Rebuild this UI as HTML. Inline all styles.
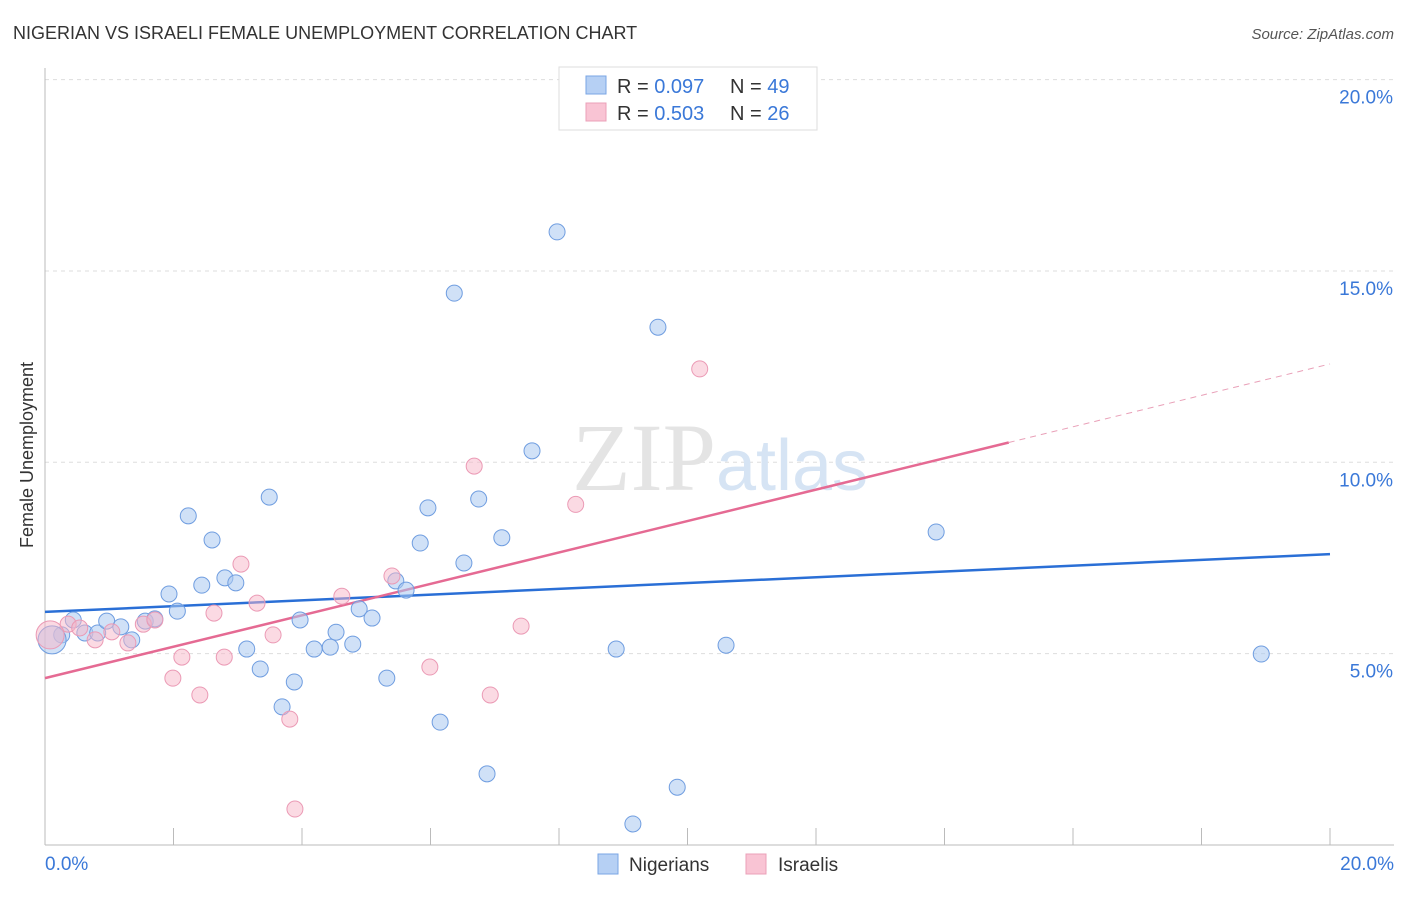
<!DOCTYPE html>
<html><head><meta charset="utf-8"><style>
body{margin:0;background:#fff;font-family:"Liberation Sans",sans-serif;}
svg text{font-family:"Liberation Sans",sans-serif;}
</style></head><body>
<svg id="chart" width="1406" height="892" xmlns="http://www.w3.org/2000/svg">
<text x="13" y="39" font-size="18" fill="#333">NIGERIAN VS ISRAELI FEMALE UNEMPLOYMENT CORRELATION CHART</text>
<text x="1394" y="39" font-size="15" fill="#555" text-anchor="end" font-style="italic">Source: ZipAtlas.com</text>
<g id="grid"></g>
<text x="720" y="490" font-size="96" text-anchor="middle" fill="#e4e4e4"><tspan font-family="Liberation Serif">ZIP</tspan><tspan fill="#d6e4f4" font-size="72">atlas</tspan></text>
<text transform="translate(33,455) rotate(-90)" font-size="18" fill="#333" text-anchor="middle">Female Unemployment</text>
<g id="trends"></g>
<g id="points"></g>
<g>
<rect x="559" y="67" width="258" height="63" fill="#fff" stroke="#ddd"/>
<rect x="586" y="76" width="20" height="18" fill="#b6d0f4" stroke="#7aa6e4"/>
<text x="617" y="93" font-size="20" fill="#333">R = <tspan fill="#3a78d8">0.097</tspan></text>
<text x="730" y="93" font-size="20" fill="#333">N = <tspan fill="#3a78d8">49</tspan></text>
<rect x="586" y="103" width="20" height="18" fill="#f9c4d4" stroke="#eba0b8"/>
<text x="617" y="120" font-size="20" fill="#333">R = <tspan fill="#3a78d8">0.503</tspan></text>
<text x="730" y="120" font-size="20" fill="#333">N = <tspan fill="#3a78d8">26</tspan></text>
</g>
<g>
<rect x="598" y="854" width="20" height="20" fill="#b6d0f4" stroke="#7aa6e4"/>
<text x="629" y="871" font-size="19" fill="#333">Nigerians</text>
<rect x="746" y="854" width="20" height="20" fill="#f9c4d4" stroke="#eba0b8"/>
<text x="778" y="871" font-size="19" fill="#333">Israelis</text>
</g>
</svg>
<script>
const yTicks=[5,10,15,20];
const yTickLabels=["5.0%","10.0%","15.0%","20.0%"];
const xTickCount=10;
const nigX=[0.26,0.44,0.62,0.82,0.96,1.18,1.35,1.56,1.71,1.93,2.06,2.23,2.44,2.60,2.80,2.97,3.14,3.35,3.49,3.69,3.88,3.97,4.19,4.44,4.53,4.79,4.89,5.09,5.32,5.46,5.62,5.84,5.96,6.15,6.37,6.52,6.75,6.88,7.11,7.58,7.97,8.89,9.15,9.54,9.84,10.60,13.87,18.93,0.11];
const nigY=[5.49,5.88,5.54,5.54,5.85,5.70,5.36,5.85,5.91,6.56,6.11,8.60,6.79,7.97,6.98,6.85,5.12,4.60,9.09,3.61,4.26,5.88,5.12,5.17,5.56,5.25,6.17,5.93,4.36,6.90,6.66,7.89,8.81,3.21,14.42,7.37,9.04,1.86,8.03,10.30,16.02,5.12,0.55,13.53,1.51,5.22,8.18,4.99,5.36];
const isrX=[0.36,0.54,0.78,1.04,1.29,1.53,1.71,1.99,2.13,2.41,2.63,2.79,3.05,3.30,3.55,3.81,3.89,4.62,5.40,5.99,6.68,6.93,7.41,8.26,10.19,0.08];
const isrY=[5.77,5.67,5.36,5.57,5.28,5.77,5.88,4.36,4.91,3.92,6.06,4.91,7.34,6.32,5.49,3.29,0.94,6.50,7.03,4.65,9.90,3.92,5.72,8.90,12.44,5.49];
const nigTrend=[6.09,7.60];
const isrTrend=[4.36,12.57];
const isrSolidEnd=15.0;
const X=v=>45+v*64.25, Y=v=>845-v*38.27;
const NS="http://www.w3.org/2000/svg";
function mk(t,a,p){const e=document.createElementNS(NS,t);for(const k in a)e.setAttribute(k,a[k]);p.appendChild(e);return e;}
const g=document.getElementById('grid');
yTicks.forEach((t,i)=>{
 const l=mk('line',{x1:45,x2:1394,y1:Y(t),y2:Y(t),stroke:'#ddd','stroke-dasharray':'4,4'},g);
 
 
 const tx=mk('text',{x:1393,y:Y(t)+24,'font-size':19,fill:'#3a78d8','text-anchor':'end'},g);
 tx.textContent=yTickLabels[i];
 
 
});
const ax=mk('line',{x1:45,x2:1394,y1:845,y2:845,stroke:'#bbb'},g);


const ay=mk('line',{x1:45,x2:45,y1:68,y2:845,stroke:'#bbb'},g);


for(let i=1;i<=xTickCount;i++){const t=mk('line',{x1:X(i*2),x2:X(i*2),y1:828,y2:845,stroke:'#bbb'},g);
 
 }
const l0=mk('text',{x:45,y:870,'font-size':19,fill:'#3a78d8'},g);l0.textContent='0.0%';


const l1=mk('text',{x:1394,y:870,'font-size':19,fill:'#3a78d8','text-anchor':'end'},g);l1.textContent='20.0%';


const tg=document.getElementById('trends');
const bt=mk('line',{x1:X(0),y1:Y(nigTrend[0]),x2:X(20),y2:Y(nigTrend[1]),stroke:'#2a6fd6','stroke-width':2.5},tg);


const iy=x=>isrTrend[0]+(isrTrend[1]-isrTrend[0])*x/20;
const pt=mk('line',{x1:X(0),y1:Y(iy(0)),x2:X(isrSolidEnd),y2:Y(iy(isrSolidEnd)),stroke:'#e56a93','stroke-width':2.5},tg);


const pd=mk('line',{x1:X(isrSolidEnd),y1:Y(iy(isrSolidEnd)),x2:X(20),y2:Y(iy(20)),stroke:'#e9a0b8','stroke-width':1,'stroke-dasharray':'6,5'},tg);


const pg=document.getElementById('points');
nigX.forEach((x,i)=>{const c=mk('circle',{cx:X(x),cy:Y(nigY[i]),r:i==nigX.length-1?14:8,fill:'rgba(170,200,240,0.55)',stroke:'#6f9de0','stroke-width':1},pg);
 
 });
isrX.forEach((x,i)=>{const c=mk('circle',{cx:X(x),cy:Y(isrY[i]),r:i==isrX.length-1?14:8,fill:'rgba(247,182,200,0.5)',stroke:'#eb9ab5','stroke-width':1},pg);
 
 });
</script>
</body></html>
